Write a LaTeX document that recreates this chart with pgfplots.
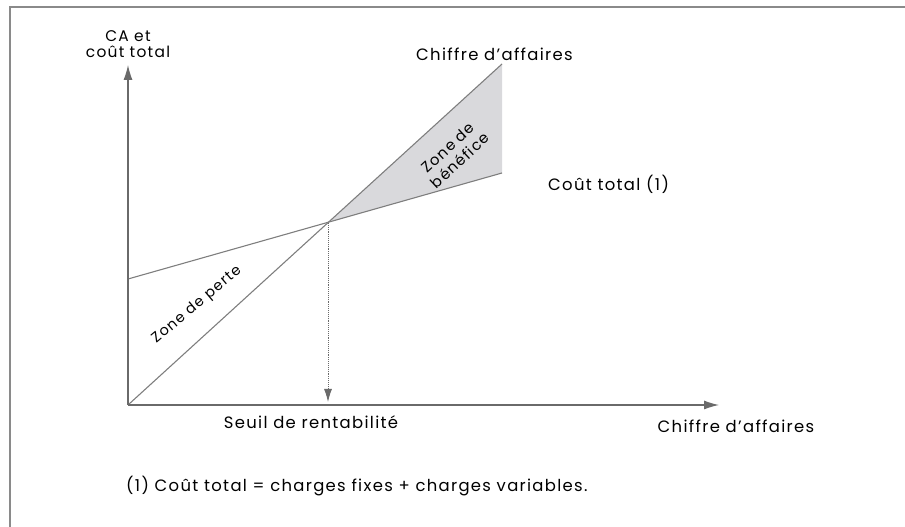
\documentclass[border=0pt]{standalone}
\usepackage{fontspec}
\setmainfont{Poppins}[LetterSpace=8]
\usepackage{pgfplots}
\pgfplotsset{compat=1.18}
\usetikzlibrary{arrows.meta}
\definecolor{linegray}{HTML}{7E7E7E}
\definecolor{axisgray}{HTML}{6A6A6A}
\definecolor{framegray}{HTML}{8A8A8A}
\definecolor{fillgray}{HTML}{D9D9DC}
\definecolor{textc}{HTML}{222222}
\begin{document}
\begin{tikzpicture}
\begin{axis}[
  scale only axis, width=905bp, height=527bp,
  xmin=-128, xmax=777, ymin=-122, ymax=405,
  axis lines=none, clip=false,
  every node/.style={text=textc},
]
% frame (top and left edges)
\addplot[framegray, line width=1.6pt] coordinates {(-118,-122) (-118,398) (777,398)};
% profit zone
\addplot[fill=fillgray, draw=none] coordinates {(200,182.5) (374,341) (374,232)} -- cycle;
% chiffre d'affaires
\addplot[linegray, line width=1.1pt] coordinates {(0,0) (374,341)};
% cout total
\addplot[linegray, line width=1.1pt] coordinates {(0,126) (374,232)};
% axes
\addplot[axisgray, line width=1.1pt, -{Latex[length=15bp,width=9bp]}] coordinates {(0,0) (0,340)};
\addplot[axisgray, line width=1.1pt, -{Latex[length=15bp,width=9bp]}] coordinates {(0,0) (591,0)};
% break-even
\addplot[axisgray, line width=0.9pt, densely dotted, -{Latex[length=13bp,width=8bp]}] coordinates {(200,182) (200,3)};
% labels
\node[align=center, inner sep=1pt, font=\fontsize{15.5}{16}\selectfont] at (axis cs:0,361) {CA et\\coût total};
\node[font=\fontsize{16.5}{18}\selectfont] at (axis cs:366.5,351) {Chiffre d’affaires};
\node[anchor=west, inner sep=0pt, font=\fontsize{16.5}{18}\selectfont] at (axis cs:420,221) {Coût total (1)};
\node[align=center, rotate=43, inner sep=0pt, font=\fontsize{15}{18}\selectfont] at (axis cs:326,251) {Zone de\\bénéfice};
\node[rotate=40, inner sep=0pt, font=\fontsize{14.5}{15}\selectfont] at (axis cs:69,100) {Zone de perte};
\node[font=\fontsize{16.5}{18}\selectfont] at (axis cs:183,-17) {Seuil de rentabilité};
\node[font=\fontsize{16.5}{18}\selectfont] at (axis cs:608,-21) {Chiffre d’affaires};
\node[anchor=west, inner sep=0pt, font=\fontsize{16.5}{18}\selectfont] at (axis cs:-2,-81) {(1) Coût total = charges fixes + charges variables.};
\end{axis}
\pgfresetboundingbox
\path[use as bounding box] (current axis.south west) rectangle (current axis.north east);
\end{tikzpicture}
\end{document}
